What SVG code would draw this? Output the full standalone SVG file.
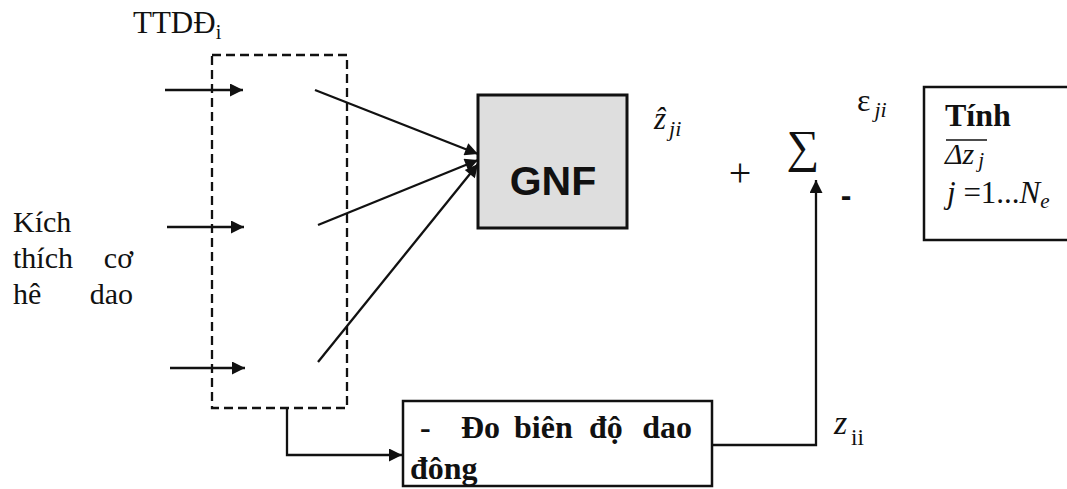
<svg xmlns="http://www.w3.org/2000/svg" width="1067" height="489" viewBox="0 0 1067 489">
<defs>
<marker id="ah" viewBox="0 0 10 10" refX="10" refY="5" markerWidth="18" markerHeight="13" markerUnits="userSpaceOnUse" orient="auto">
<path d="M0,0 L10,5 L0,10 Z" fill="#111"/>
</marker>
<style>
.ln{stroke:#111;stroke-width:2.3;fill:none}
.t{font-family:"Liberation Serif","Times New Roman",serif;fill:#111}
.it{font-style:italic}
.b{font-weight:bold}
</style>
</defs>
<rect width="1067" height="489" fill="#fff"/>

<g id="ttdd">
<text class="t" x="133" y="33" font-size="31">TTDĐ<tspan font-size="20" dy="6">i</tspan></text>
<rect x="212" y="55" width="135" height="353" fill="none" stroke="#111" stroke-width="2.3" stroke-dasharray="9,5"/>
</g>

<g id="kich">
<text class="t" x="13" y="232" font-size="30">Kích</text>
<text class="t" x="13" y="268" font-size="30">thích</text>
<text class="t" x="133" y="268" font-size="30" text-anchor="end">cơ</text>
<text class="t" x="13" y="304" font-size="30">hê</text>
<text class="t" x="133" y="304" font-size="30" text-anchor="end">dao</text>
</g>

<g id="gnf">
<rect x="478" y="95" width="149" height="133" fill="#dedede" stroke="#111" stroke-width="3"/>
<text x="553" y="195" font-family="'Liberation Sans',Arial,sans-serif" font-weight="bold" font-size="41" text-anchor="middle" fill="#111">GNF</text>
</g>

<g id="zhat">
<text class="t it" x="654" y="129" font-size="31">ẑ<tspan font-size="22" dx="3" dy="7">ji</tspan></text>
</g>

<g id="sum">
<text class="t" x="740" y="186" font-size="40" text-anchor="middle">+</text>
<text class="t" x="803" y="162" font-size="46" text-anchor="middle">∑</text>
<text x="846" y="206" font-family="'Liberation Sans',Arial,sans-serif" font-weight="bold" font-size="32" text-anchor="middle" fill="#111">-</text>
<text class="t" x="857" y="111" font-size="32">ε<tspan class="it" font-size="22" dx="4" dy="6">ji</tspan></text>
</g>

<g id="tinh">
<rect x="924" y="87" width="160" height="153" fill="none" stroke="#111" stroke-width="2.5"/>
<text class="t b" x="945" y="126" font-size="32">Tính</text>
<line x1="946" y1="140" x2="987" y2="140" stroke="#111" stroke-width="1.5"/>
<text class="t it" x="945" y="164" font-size="30">Δz<tspan font-size="21" dx="4" dy="3">j</tspan></text>
<text class="t it" x="947" y="203" font-size="31">j<tspan font-style="normal"> =1...</tspan>N<tspan font-size="21" dy="5">e</tspan></text>
</g>

<g id="do">
<rect x="403" y="401" width="309" height="85" fill="#fff" stroke="#111" stroke-width="2.5"/>
<text class="t b" x="420" y="438" font-size="32">-</text>
<text class="t b" x="461" y="438" font-size="32">Đo</text>
<text class="t b" x="514" y="438" font-size="32">biên</text>
<text class="t b" x="589" y="438" font-size="32">độ</text>
<text class="t b" x="692" y="438" font-size="32" text-anchor="end">dao</text>
<text class="t b" x="410" y="479" font-size="32">đông</text>
</g>

<g id="zii">
<text class="t it" x="834" y="434" font-size="34">z</text>
<text class="t" x="851" y="445" font-size="23">ii</text>
</g>

<g id="connectors">
<line class="ln" x1="165" y1="90" x2="243" y2="90" marker-end="url(#ah)"/>
<line class="ln" x1="167" y1="227" x2="244" y2="227" marker-end="url(#ah)"/>
<line class="ln" x1="170" y1="368" x2="245" y2="368" marker-end="url(#ah)"/>
<line class="ln" x1="315" y1="90" x2="478" y2="154" marker-end="url(#ah)"/>
<line class="ln" x1="318" y1="225" x2="478" y2="160" marker-end="url(#ah)"/>
<line class="ln" x1="318" y1="362" x2="478" y2="164" marker-end="url(#ah)"/>
<polyline class="ln" points="287,408 287,455 402,455" marker-end="url(#ah)"/>
<polyline class="ln" points="712,445 816,445 816,180" marker-end="url(#ah)"/>
</g>
</svg>
